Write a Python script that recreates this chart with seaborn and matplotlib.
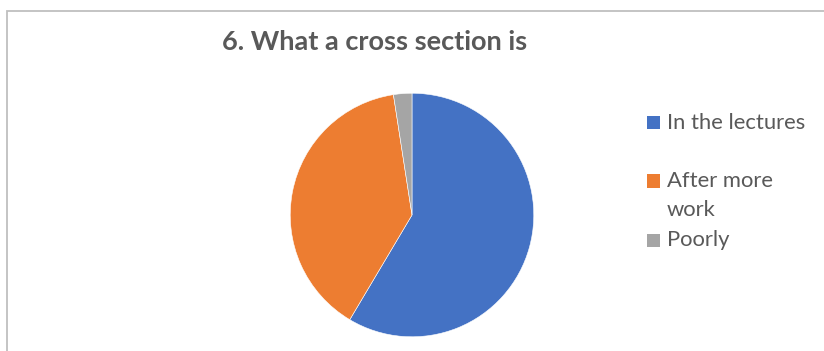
import matplotlib
matplotlib.use("Agg")
import matplotlib.pyplot as plt
from matplotlib.patches import Rectangle
import seaborn as sns

# Survey responses
categories = ["In the lectures", "After more work", "Poorly"]
legend_lines = [["In the lectures"], ["After more", "work"], ["Poorly"]]
counts = [24, 16, 1]
title = "6. What a cross section is"

sns.set_theme(style="white")
plt.rcParams["font.family"] = ["Lato", "DejaVu Sans"]
colors = ["#4472C4", "#ED7D31", "#A5A5A5"]
text_color = "#595959"

W, H = 824, 351
fig = plt.figure(figsize=(W / 100, H / 100), dpi=100)
fig.patch.set_facecolor("white")

# chart frame (extends past right/bottom edges)
fig.patches.append(Rectangle((7 / W, -0.1), 1.2, 1 - 11 / H + 0.1,
                             transform=fig.transFigure, fill=False,
                             edgecolor="#BFBFBF", linewidth=1.3))

# pie
cx, cy, r = 412, 215, 123
ax = fig.add_axes([(cx - r) / W, (H - cy - r) / H, 2 * r / W, 2 * r / H])
ax.pie(counts, colors=colors, startangle=90, counterclock=False,
       radius=1, wedgeprops=dict(linewidth=0.4, edgecolor="white"))
ax.set_xlim(-1.01, 1.01)
ax.set_ylim(-1.01, 1.01)
ax.set_aspect("equal")
ax.axis("off")

# title
fig.text(375 / W, 1 - 42 / H, title, ha="center", va="center",
         fontsize=19.5, fontweight="bold", color=text_color)

# legend
row_y = [123, 181, 240]
line_h = 29
for color, lines, y in zip(colors, legend_lines, row_y):
    fig.patches.append(Rectangle((647 / W, 1 - (y + 6.5) / H), 13 / W, 13 / H,
                                 transform=fig.transFigure, facecolor=color,
                                 edgecolor="none"))
    for i, line in enumerate(lines):
        fig.text(667 / W, 1 - (y + i * line_h) / H, line, ha="left",
                 va="center", fontsize=15.8, color=text_color)

fig.savefig("out.png", dpi=100, facecolor="white")
